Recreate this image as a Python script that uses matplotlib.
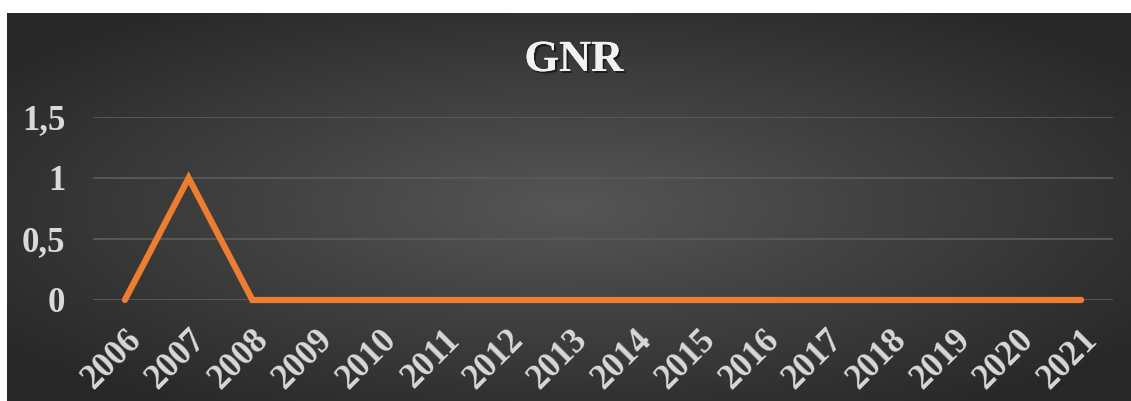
import numpy as np
import matplotlib.pyplot as plt
import matplotlib.patheffects as pe

years = [str(y) for y in range(2006, 2022)]
gnr = [0, 1, 0, 0, 0, 0, 0, 0, 0, 0, 0, 0, 0, 0, 0, 0]
yticks = [0, 0.5, 1, 1.5]
ytick_labels = ['0', '0,5', '1', '1,5']

W, H = 1131, 401
fig = plt.figure(figsize=(W / 100, H / 100), dpi=100, facecolor='white')

# dark panel with radial gradient
bg = fig.add_axes([7 / W, 0, 1 - 7 / W, 1 - 13 / H])
bg.set_axis_off()
xx, yy = np.meshgrid(np.linspace(-1, 1, 400), np.linspace(-1, 1, 200))
r = np.clip(np.sqrt(xx ** 2 + yy ** 2) / 1.25, 0, 1)
c0, c1 = 0x56 / 255, 0x28 / 255
shade = c0 + (c1 - c0) * r
bg.imshow(np.dstack([shade] * 3), aspect='auto', extent=[0, 1, 0, 1])

ax = fig.add_axes([93 / W, 1 - 300 / H, (1113 - 93) / W, (300 - 117) / H])
ax.patch.set_alpha(0)
x = np.arange(len(years))
ax.plot(x, gnr, color='#ED7D31', lw=4.5, solid_capstyle='round',
        solid_joinstyle='miter', zorder=3, clip_on=False)

ax.set_xlim(-0.5, len(years) - 0.5)
ax.set_ylim(0, 1.5)
ax.set_yticks(yticks)
ax.set_yticklabels(ytick_labels)
ax.set_xticks(x)
ax.set_xticklabels(years, rotation=45, ha='right', rotation_mode='anchor')
for s in ax.spines.values():
    s.set_visible(False)
ax.grid(axis='y', color='#5a5a5a', lw=1.3)
ax.set_axisbelow(True)
ax.tick_params(length=0, colors='#d9d9d9', labelsize=25)
ax.tick_params(axis='y', pad=20)
ax.tick_params(axis='x', pad=17)
for lab in ax.get_xticklabels() + ax.get_yticklabels():
    lab.set_fontfamily('Liberation Serif')
    lab.set_fontweight('bold')
    lab.set_color('#d9d9d9')

fig.text(574 / W, 1 - 60 / H, 'GNR', ha='center', va='center', color='#f2f2f2',
         fontsize=32, fontweight='bold', family='Liberation Serif',
         path_effects=[pe.withSimplePatchShadow(offset=(1.5, -1.5), shadow_rgbFace='black', alpha=0.5),
                       pe.Normal()])

fig.savefig('out.png', dpi=100, facecolor='white')
